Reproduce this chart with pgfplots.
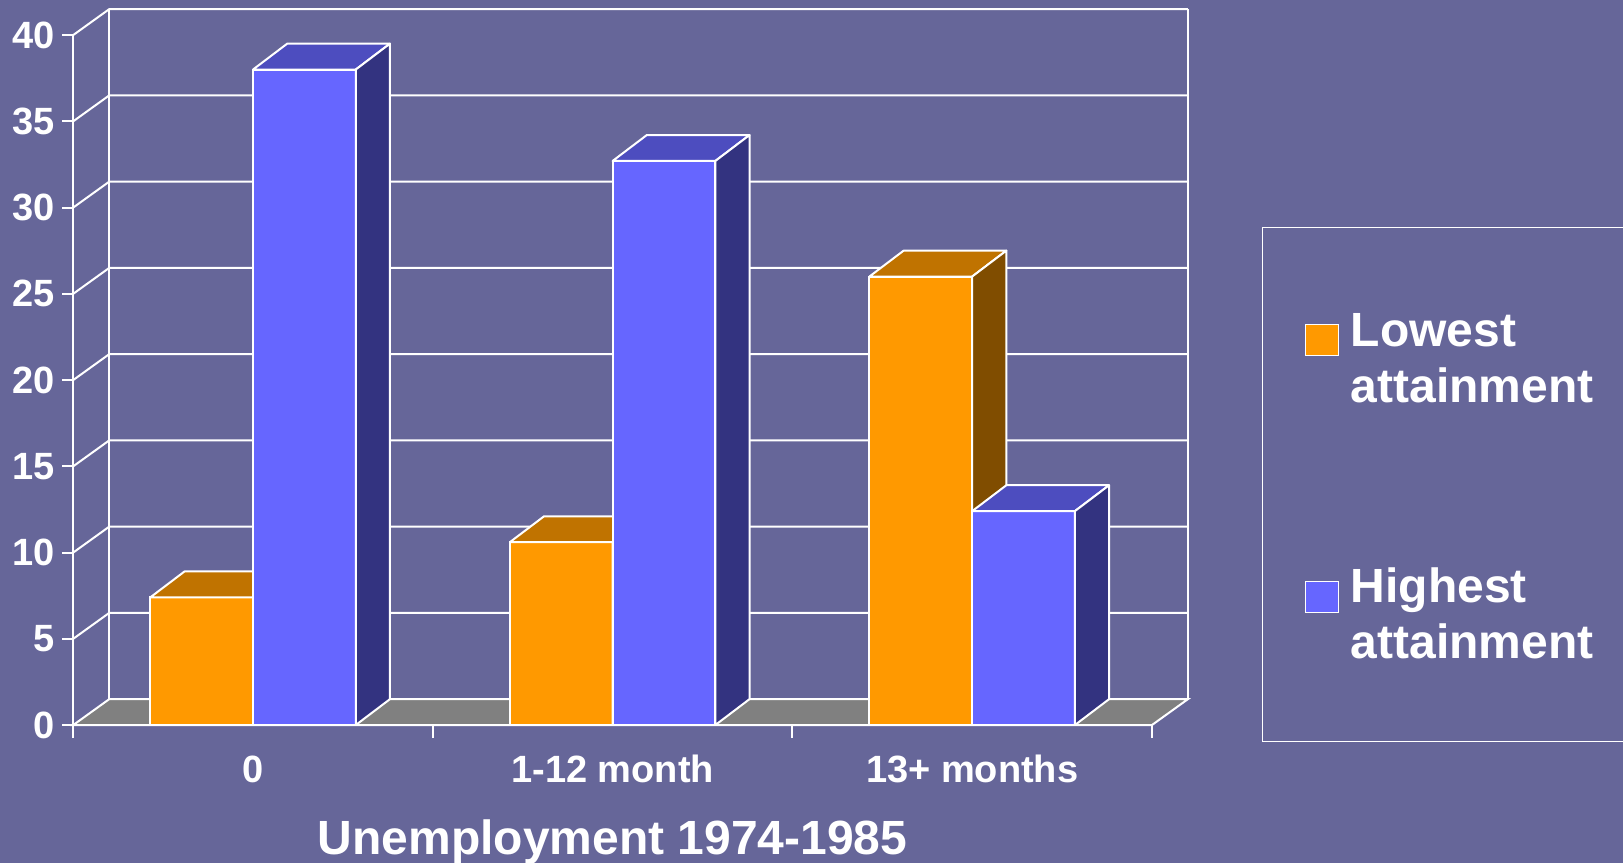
\documentclass[border=0pt]{standalone}
\usepackage{pgfplots}
\pgfplotsset{compat=1.18}
\usepackage{pgfplotstable}
\usepackage{fontspec}
\setmainfont{Liberation Sans}

\definecolor{bg}{RGB}{102,102,153}
\definecolor{orF}{RGB}{255,153,0}
\definecolor{orT}{RGB}{192,115,0}
\definecolor{orS}{RGB}{128,77,0}
\definecolor{blF}{RGB}{102,102,255}
\definecolor{blT}{RGB}{77,77,191}
\definecolor{blS}{RGB}{51,51,128}
\definecolor{floorgray}{RGB}{128,128,128}

% values (per cent)
\pgfplotstableread{
x low high
0 7.4 38.0
1 10.6 32.7
2 26.0 12.4
}\data

\newcommand{\barw}{0.285714}
\newcommand{\bardx}{0.095}
\newcommand{\walldx}{0.1}
\newcommand{\depthdy}{1.5}

% #1 row, #2 column, #3 left offset of front face, #4 top colour, #5 side colour
\newcommand{\barfaces}[5]{%
  \pgfplotstablegetelem{#1}{x}\of\data\let\bx\pgfplotsretval
  \pgfplotstablegetelem{#1}{#2}\of\data\let\bv\pgfplotsretval
  \pgfmathsetmacro\xa{\bx+#3}%
  \pgfmathsetmacro\xb{\bx+#3+\barw}%
  \pgfmathsetmacro\xc{\bx+#3+\bardx}%
  \pgfmathsetmacro\xd{\bx+#3+\barw+\bardx}%
  \pgfmathsetmacro\vb{\bv+\depthdy}%
  \edef\tmp{%
    \noexpand\addplot[forget plot, fill=#4, draw=white, line width=1pt, line join=round]
      coordinates {(\xa,\bv) (\xc,\vb) (\xd,\vb) (\xb,\bv)} -- cycle;
    \noexpand\addplot[forget plot, fill=#5, draw=white, line width=1pt, line join=round]
      coordinates {(\xb,0) (\xd,\depthdy) (\xd,\vb) (\xb,\bv)} -- cycle;
  }\tmp
}

\begin{document}
\begin{tikzpicture}
\useasboundingbox (0,0) rectangle (811.5pt,431.5pt);
\fill[bg] (0,0) rectangle (811.5pt,431.5pt);
\begin{axis}[
  at={(36.65pt,69pt)}, anchor=south west,
  scale only axis, width=539.35pt, height=345pt,
  xmin=-0.5, xmax=2.5, ymin=0, ymax=40,
  clip=false,
  axis lines*=left,
  axis line style={white, line width=1pt},
  every tick/.style={white, line width=1pt},
  tick align=outside,
  ytick={0,5,...,40},
  major tick length=5.5pt,
  minor tick length=6.5pt,
  xtick={0,1,2},
  xticklabels={0,1-12 month,13+ months},
  minor xtick={-0.5,0.5,1.5,2.5},
  major x tick style={draw=none},
  /pgf/number format/assume math mode=true,
  ticklabel style={font=\fontsize{19}{22}\selectfont\bfseries, text=white},
  xticklabel style={anchor=base, yshift=-23pt},
  yticklabel style={anchor=east, inner xsep=0pt, xshift=-3.5pt},
  xlabel={Unemployment 1974-1985},
  xlabel style={at={(axis description cs:0.5,0)}, anchor=base, yshift=-64.5pt,
    font=\fontsize{24}{28}\selectfont\bfseries, text=white},
  legend style={at={(1.1020,0.72174)}, anchor=north west,
    draw=white, line width=0.7pt, fill=none, text=white,
    font=\fontsize{24}{28}\selectfont\bfseries,
    inner xsep=21pt, inner ysep=41pt,
    row sep=82.5pt, column sep=6pt,
    nodes={inner sep=0pt, text depth=},
    cells={anchor=base west}},
  legend cell align=left,
]
% back wall grid lines
\pgfplotsinvokeforeach{5,10,...,40}{%
  \pgfmathsetmacro\gv{#1+\depthdy}%
  \edef\tmp{\noexpand\addplot[forget plot, draw=white, line width=1pt]
    coordinates {(-0.5,#1) (-0.4,\gv) (2.6,\gv)};}\tmp
}
\addplot[forget plot, draw=white, line width=1pt] coordinates {(-0.4,1.5) (-0.4,41.5)};
\addplot[forget plot, draw=white, line width=1pt] coordinates {(2.6,1.5) (2.6,41.5)};
% floor
\addplot[forget plot, fill=floorgray, draw=white, line width=1pt]
  coordinates {(-0.5,0) (-0.4,1.5) (2.6,1.5) (2.5,0)} -- cycle;

% lowest attainment
\addplot[forget plot, ybar, bar width=0.285714, bar shift=-0.142857,
  fill=orF, draw=white, line width=1pt] table[x=x, y=low]{\data};
\pgfplotsinvokeforeach{0,1,2}{\barfaces{#1}{low}{-0.285714}{orT}{orS}}
% highest attainment
\addplot[forget plot, ybar, bar width=0.285714, bar shift=0.142857,
  fill=blF, draw=white, line width=1pt] table[x=x, y=high]{\data};
\pgfplotsinvokeforeach{0,1,2}{\barfaces{#1}{high}{0}{blT}{blS}}

\addlegendimage{legend image code/.code={\draw[fill=orF, draw=white, line width=0.6pt] (0pt,0.5pt) rectangle (16.5pt,16pt);}}
\addlegendentry{\parbox[t]{116.75pt}{\raggedright\rule{0pt}{18.5pt}Lowest\\attainment}}
\addlegendimage{legend image code/.code={\draw[fill=blF, draw=white, line width=0.6pt] (0pt,0.5pt) rectangle (16.5pt,16pt);}}
\addlegendentry{\parbox[t]{116.75pt}{\raggedright Highest\\attainment}}
\end{axis}
\end{tikzpicture}
\end{document}
